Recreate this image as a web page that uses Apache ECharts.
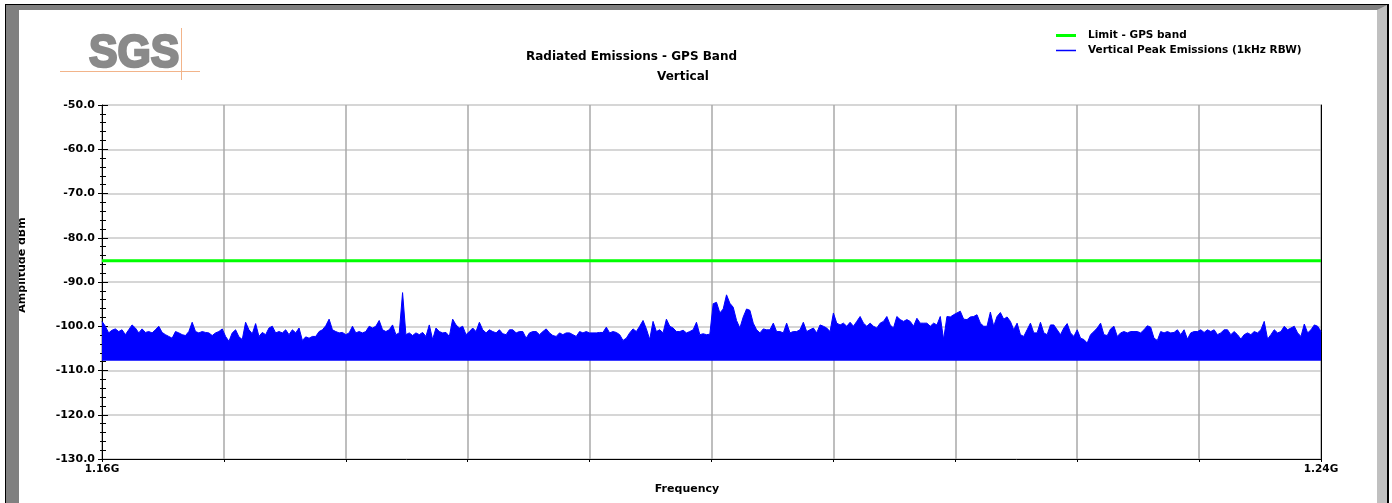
<!DOCTYPE html>
<html>
<head>
<meta charset="utf-8">
<script src="https://cdn.jsdelivr.net/npm/echarts@6/dist/echarts.min.js"></script>
<style>
html,body{margin:0;padding:0;background:#fff;}
#chart{width:1392px;height:503px;}
</style>
</head>
<body>
<div id="chart"></div>
<script>
// ---- data ----
const chartTitle = 'Radiated Emissions - GPS Band';
const chartSubtitle = 'Vertical';
const seriesNames = ['Limit - GPS band', 'Vertical Peak Emissions (1kHz RBW)'];
const xAxisName = 'Frequency';
const yAxisName = 'Amplitude dBm';
const logoText = 'SGS';
const freqStartMHz = 1160;
const freqStopMHz = 1240;
const xEndLabels = ['1.16G', '1.24G'];
const yMin = -130, yMax = -50, yStep = 10;
const limitDbm = -85.2;
const noiseFloorDbm = -107.8;
// peak trace envelope, evenly spaced sweep bins from 1.16 GHz to 1.24 GHz
const peakDbm = [
-98.9,-100.0,-101.5,-100.9,-100.6,-101.2,-100.8,-101.9,-100.8,-99.7,
-100.4,-101.5,-100.6,-101.4,-101.2,-101.5,-100.8,-100.0,-101.4,-101.9,
-102.3,-102.7,-101.2,-101.5,-101.9,-102.1,-101.2,-99.1,-101.2,-101.5,
-101.2,-101.4,-101.5,-102.1,-101.5,-101.2,-100.6,-102.3,-103.4,-101.5,
-100.8,-102.4,-103.0,-99.1,-100.8,-101.7,-99.4,-102.3,-101.4,-101.9,
-100.4,-100.0,-101.5,-101.2,-101.5,-100.8,-101.9,-100.8,-101.5,-100.4,
-103.2,-102.4,-102.7,-102.3,-102.3,-101.2,-100.8,-99.9,-98.4,-100.8,
-101.2,-101.5,-101.4,-101.9,-101.5,-100.0,-101.5,-101.2,-101.5,-101.2,
-100.0,-100.4,-100.0,-98.7,-100.8,-101.2,-100.8,-99.7,-101.9,-101.5,
-92.4,-101.9,-101.5,-102.1,-101.5,-101.9,-101.4,-102.3,-99.7,-103.0,
-100.4,-101.2,-101.5,-101.4,-102.3,-98.4,-99.7,-100.4,-100.0,-101.9,
-101.2,-100.4,-101.2,-99.1,-100.8,-101.5,-100.8,-101.2,-101.5,-100.8,
-101.7,-101.9,-100.8,-100.8,-101.5,-101.2,-101.2,-102.7,-101.5,-101.2,
-101.2,-101.9,-101.2,-100.6,-101.5,-102.1,-102.3,-101.5,-101.9,-101.5,
-101.5,-101.9,-102.3,-101.2,-101.5,-101.2,-101.5,-101.5,-101.5,-101.4,
-101.4,-100.2,-101.5,-101.2,-101.4,-101.9,-103.2,-102.7,-101.5,-100.6,
-101.2,-100.0,-98.7,-100.6,-103.0,-98.9,-101.2,-100.8,-101.5,-98.4,
-100.0,-100.4,-101.2,-101.2,-100.9,-101.5,-101.2,-100.8,-99.1,-101.9,
-101.7,-101.9,-101.8,-94.9,-94.6,-97.0,-96.1,-92.9,-94.8,-95.7,
-98.7,-100.4,-97.9,-96.1,-96.4,-99.3,-100.8,-101.5,-100.6,-100.8,
-100.8,-99.3,-101.2,-101.2,-101.5,-99.3,-101.5,-101.2,-101.2,-100.8,
-99.1,-101.2,-100.8,-100.4,-101.5,-99.7,-100.0,-100.4,-101.2,-97.0,
-99.3,-99.7,-99.3,-100.0,-99.1,-100.0,-98.9,-97.8,-99.3,-100.0,
-99.3,-100.0,-100.4,-99.3,-98.9,-97.8,-99.7,-100.4,-97.8,-98.5,
-98.9,-98.5,-98.9,-100.0,-98.2,-99.3,-99.3,-99.3,-100.0,-99.3,
-99.7,-97.8,-103.0,-97.8,-97.9,-97.4,-97.0,-96.6,-98.4,-98.5,
-97.9,-97.8,-97.4,-99.3,-100.0,-100.0,-96.8,-100.0,-97.8,-96.9,
-98.4,-97.9,-98.9,-100.8,-99.3,-101.9,-102.3,-100.8,-99.3,-101.5,
-101.5,-99.1,-101.5,-101.9,-99.7,-99.7,-100.8,-101.9,-100.4,-99.4,
-101.5,-102.3,-100.8,-102.7,-103.0,-103.8,-101.9,-101.2,-100.4,-99.3,
-101.9,-102.1,-100.6,-100.0,-102.3,-101.5,-101.2,-101.5,-101.2,-101.2,
-101.2,-101.5,-100.8,-99.9,-100.2,-102.7,-103.2,-101.2,-101.5,-101.2,
-101.5,-101.4,-100.8,-101.9,-100.8,-102.9,-101.5,-101.2,-101.2,-100.8,
-101.4,-100.8,-101.2,-100.8,-101.9,-101.5,-100.8,-100.8,-101.9,-101.2,
-101.9,-102.9,-101.9,-101.5,-101.9,-101.2,-101.5,-100.8,-98.9,-102.9,
-101.9,-100.8,-101.5,-101.2,-100.0,-100.8,-100.4,-100.0,-101.5,-102.3,
-99.5,-101.5,-100.8,-99.7,-100.0,-101.2
];

// ---- build chart ----
const FONT = '"DejaVu Sans", sans-serif';
const binStep = (freqStopMHz - freqStartMHz) / (peakDbm.length - 1);
const peakData = peakDbm.map((v, i) => [freqStartMHz + i * binStep, v]);
const limitData = [[freqStartMHz, limitDbm], [freqStopMHz, limitDbm]];

const chart = echarts.init(document.getElementById('chart'), null, {renderer: 'canvas'});
const option = {
  animation: false,
  backgroundColor: '#ffffff',
  grid: {left: 102, right: 71, top: 105, bottom: 44, containLabel: false},
  title: [
    {text: chartTitle, left: 526, top: 51, padding: 0,
     textStyle: {fontFamily: FONT, fontWeight: 'bold', fontSize: 12, color: '#000'}},
    {text: chartSubtitle, left: 657, top: 71, padding: 0,
     textStyle: {fontFamily: FONT, fontWeight: 'bold', fontSize: 12, color: '#000'}}
  ],
  legend: [
    {data: [seriesNames[0]], left: 1056, top: 30, padding: 0, icon: 'rect',
     itemWidth: 20, itemHeight: 3,
     textStyle: {fontFamily: FONT, fontWeight: 'bold', fontSize: 10.5, color: '#000', padding: [0, 0, 0, 7]}},
    {data: [seriesNames[1]], left: 1056, top: 45, padding: 0, icon: 'rect',
     itemWidth: 20, itemHeight: 1.5,
     textStyle: {fontFamily: FONT, fontWeight: 'bold', fontSize: 10.5, color: '#000', padding: [0, 0, 0, 7]}}
  ],
  xAxis: {
    type: 'value', min: freqStartMHz, max: freqStopMHz, interval: 8,
    axisLine: {show: true, onZero: false, lineStyle: {color: '#000', width: 1}},
    axisTick: {show: true, length: 3, lineStyle: {color: '#000'}},
    axisLabel: {
      show: true, margin: 5, showMinLabel: true, showMaxLabel: true,
      fontFamily: FONT, fontWeight: 'bold', fontSize: 10.5, color: '#000',
      formatter: v => (v === freqStartMHz ? xEndLabels[0] : (v === freqStopMHz ? xEndLabels[1] : ''))
    },
    splitLine: {show: true, lineStyle: {color: '#a8a8a8', width: 1.5}}
  },
  yAxis: [
    {
      type: 'value', min: yMin, max: yMax, interval: yStep, position: 'left',
      axisLine: {show: true, onZero: false, lineStyle: {color: '#000', width: 1}},
      axisTick: {show: true, length: 4, lineStyle: {color: '#000'}},
      minorTick: {show: true, splitNumber: 5, length: 2, lineStyle: {color: '#000'}},
      axisLabel: {margin: 7, fontFamily: FONT, fontWeight: 'bold', fontSize: 11, color: '#000',
                  formatter: v => v.toFixed(1)},
      splitLine: {show: true, lineStyle: {color: '#c8c8c8', width: 1.5}}
    },
    {
      type: 'value', min: yMin, max: yMax, interval: yStep, position: 'left',
      axisLine: {show: false, onZero: false},
      axisTick: {show: true, inside: true, length: 6, lineStyle: {color: '#000'}},
      minorTick: {show: true, splitNumber: 5, length: 4, lineStyle: {color: '#000'}},
      axisLabel: {show: false},
      splitLine: {show: false}
    },
    {
      type: 'value', min: yMin, max: yMax, interval: yStep, position: 'right',
      axisLine: {show: true, onZero: false, lineStyle: {color: '#000', width: 1}},
      axisTick: {show: false}, axisLabel: {show: false}, splitLine: {show: false}
    }
  ],
  series: [
    {
      name: seriesNames[1], type: 'line', data: peakData, xAxisIndex: 0, yAxisIndex: 0,
      symbol: 'none', color: '#0000ff', z: 2,
      lineStyle: {color: '#0000ff', width: 1},
      areaStyle: {color: '#0000ff', opacity: 1, origin: noiseFloorDbm}
    },
    {
      name: seriesNames[0], type: 'line', data: limitData, xAxisIndex: 0, yAxisIndex: 0,
      symbol: 'none', color: '#00ff00', z: 3,
      lineStyle: {color: '#00ff00', width: 3}
    }
  ],
  graphic: [
    // frame
    {type: 'rect', shape: {x: 6, y: 5, width: 1381, height: 5}, style: {fill: '#808080'}, z: 100, silent: true},
    {type: 'rect', shape: {x: 6, y: 5, width: 13, height: 498}, style: {fill: '#808080'}, z: 100, silent: true},
    {type: 'polygon', shape: {points: [[1377, 10], [1387, 5], [1387, 503], [1377, 503]]}, style: {fill: '#c0c0c0'}, z: 101, silent: true},
    {type: 'line', shape: {x1: 5, y1: 4.5, x2: 1389, y2: 4.5}, style: {stroke: '#000', lineWidth: 1}, z: 102, silent: true},
    {type: 'line', shape: {x1: 5.5, y1: 4, x2: 5.5, y2: 503}, style: {stroke: '#000', lineWidth: 1}, z: 102, silent: true},
    {type: 'line', shape: {x1: 1388, y1: 4, x2: 1388, y2: 503}, style: {stroke: '#000', lineWidth: 2}, z: 102, silent: true},
    // logo
    {type: 'line', shape: {x1: 60, y1: 71.5, x2: 200, y2: 71.5}, style: {stroke: '#f2b48a', lineWidth: 1}, z: 50, silent: true},
    {type: 'text', x: 89, y: 54, scaleX: 0.91, scaleY: 1,
     style: {text: logoText, fontFamily: 'Liberation Sans', fontWeight: 'bold', fontSize: 47, fill: '#8a8a8a',
             stroke: '#8a8a8a', lineWidth: 2.5,
             textAlign: 'left', textVerticalAlign: 'middle'}, z: 51, silent: true},
    {type: 'line', shape: {x1: 181.5, y1: 28, x2: 181.5, y2: 80}, style: {stroke: '#f2b48a', lineWidth: 1}, z: 52, silent: true},
    // axis names
    {type: 'text', x: 22, y: 265, rotation: Math.PI / 2,
     style: {text: yAxisName, fontFamily: 'DejaVu Sans', fontWeight: 'bold', fontSize: 11, fill: '#000', textAlign: 'center', textVerticalAlign: 'middle'}, z: 60, silent: true},
    {type: 'text', x: 687, y: 489,
     style: {text: xAxisName, fontFamily: 'DejaVu Sans', fontWeight: 'bold', fontSize: 11, fill: '#000', textAlign: 'center', textVerticalAlign: 'middle'}, z: 60, silent: true}
  ]
};
chart.setOption(option);
</script>
</body>
</html>
